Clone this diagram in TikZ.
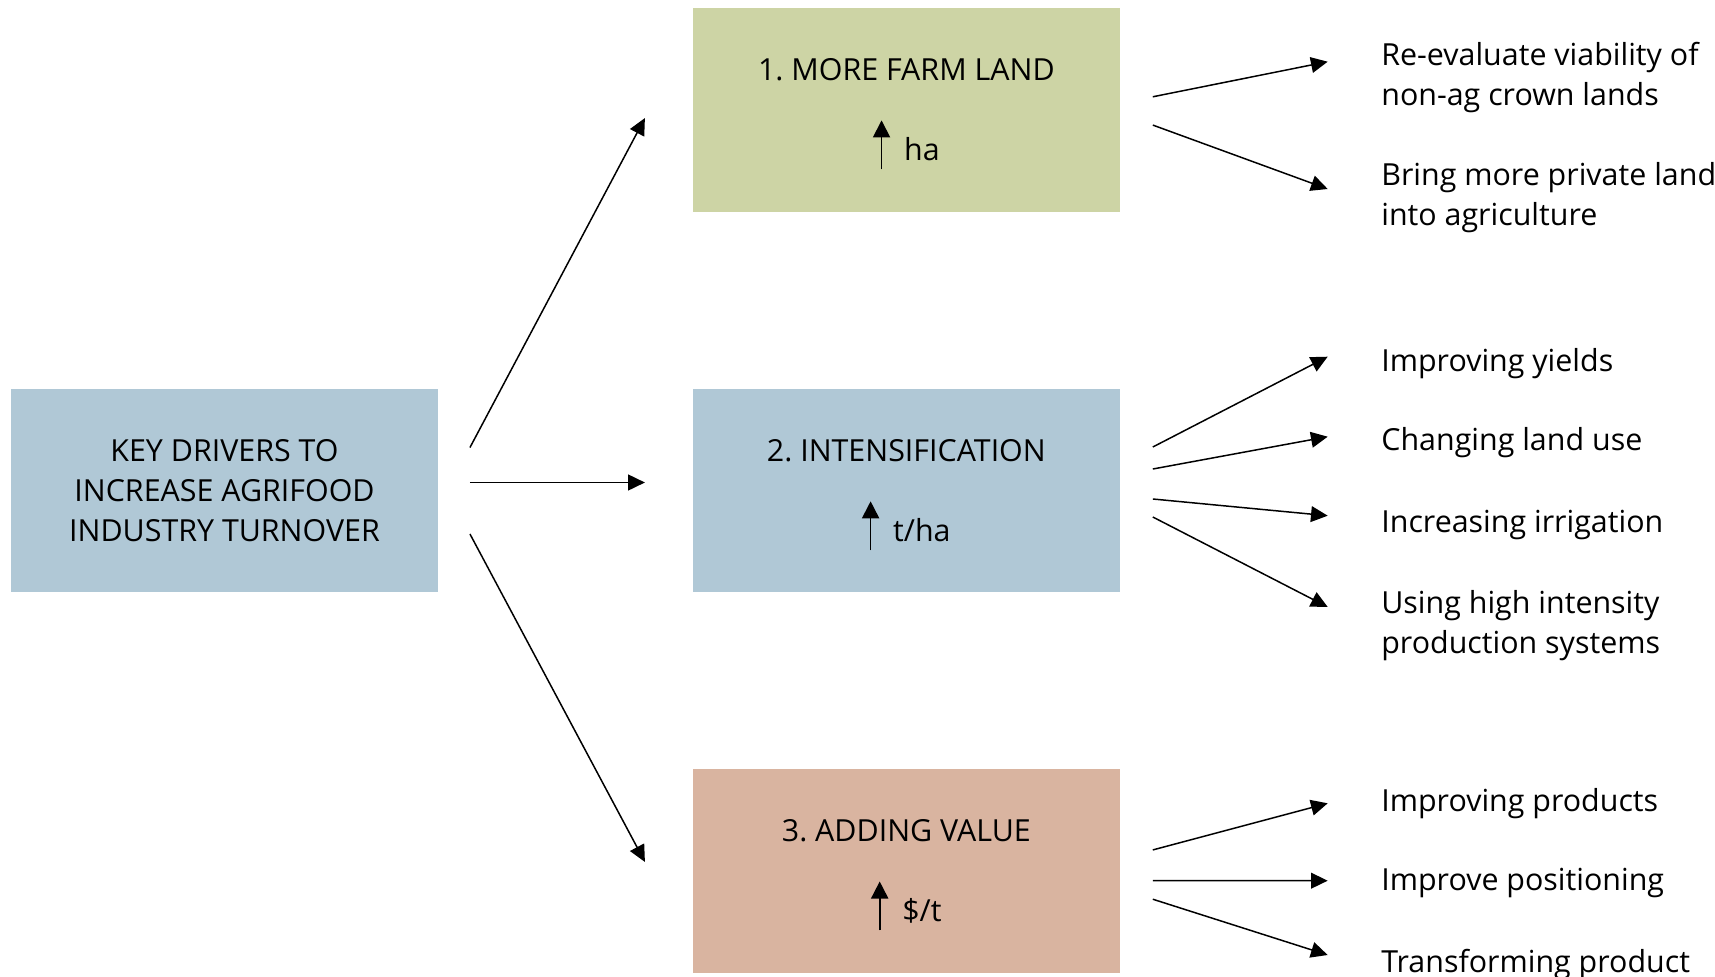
\documentclass[tikz,border=0pt]{standalone}
\usepackage{fontspec}
\setmainfont{Open Sans}
\usetikzlibrary{arrows.meta, positioning}
\frenchspacing

\definecolor{landgreen}{RGB}{205,212,165}
\definecolor{driverblue}{RGB}{176,200,214}
\definecolor{valuepink}{RGB}{217,180,160}

% small upward arrow used inside the boxes
\newcommand{\upmark}{\tikz[baseline=0pt]{\useasboundingbox (0pt,0pt) rectangle (9.7pt,21pt);
    \draw[line width=1pt, -{Triangle[length=9.7pt,width=9.7pt]}] (4.85pt,-5.1pt) -- (4.85pt,22.8pt);}\hspace{8pt}}

\begin{document}
\begin{tikzpicture}[x=0.02cm, y=-0.02cm,
            % Styles
            driver/.style={rectangle, text centered, align=center, minimum width=8.54cm, minimum height=4.08cm, inner sep=0pt, outer sep=0pt, font=\fontsize{17.3pt}{22.7pt}\selectfont},
            outcome/.style={anchor=base west, align=left, inner sep=0pt, font=\fontsize{17.3pt}{22.7pt}\selectfont},
            line/.style={draw, line width=0.85pt, -{Triangle[length=9.5pt, width=9pt]}}
        ]
        \useasboundingbox (0,0) rectangle (1715,977);

        % Nodes
        \node [driver, fill=driverblue] (key) at (224.5,490.5) {KEY DRIVERS TO\\INCREASE AGRIFOOD\\INDUSTRY TURNOVER};

        % Three drivers
        \node [driver, fill=driverblue, right=5.1cm of key] (intens) {2. INTENSIFICATION\\[22.8pt]\upmark t/ha};
        \node [driver, fill=landgreen, above=3.54cm of intens] (land) {1. MORE FARM LAND\\[22.8pt]\upmark ha};
        \node [driver, fill=valuepink, below=3.54cm of intens] (value) {3. ADDING VALUE\\[22.8pt]\upmark \$/t};

        % Outcomes (base = last line)
        \node [outcome] (reeval) at (1381,105) {Re-evaluate viability of\\non-ag crown lands};
        \node [outcome] (bring) at (1381,225) {Bring more private land\\into agriculture};
        \node [outcome] (yields) at (1381,371) {Improving yields};
        \node [outcome] (landuse) at (1381,450) {Changing land use};
        \node [outcome] (irrig) at (1381,532) {Increasing irrigation};
        \node [outcome] (hiint) at (1381,653) {Using high intensity\\production systems};
        \node [outcome] (products) at (1381,811) {Improving products};
        \node [outcome] (position) at (1381,890) {Improve positioning};
        \node [outcome] (transform) at (1381,972) {Transforming product};

        % Edges
        \path [line] ([shift={(32,-43)}]key.east) -- ([shift={(-48,8.5)}]land.west);
        \path [line] ([shift={(32,-8)}]key.east) -- ([shift={(-48,-8)}]intens.west);
        \path [line] ([shift={(32,43.5)}]key.east) -- ([shift={(-48,-9.5)}]value.west);

        \path [line] ([shift={(33,-12.8)}]land.east) -- ([shift={(-53.3,-43.3)}]reeval.base west);
        \path [line] ([shift={(33,15.5)}]land.east) -- ([shift={(-53.3,-36)}]bring.base west);

        \path [line] ([shift={(33,-43.5)}]intens.east) -- ([shift={(-53.3,-14.3)}]yields.base west);
        \path [line] ([shift={(33,-21.5)}]intens.east) -- ([shift={(-53.3,-13.3)}]landuse.base west);
        \path [line] ([shift={(33,8.5)}]intens.east) -- ([shift={(-53.3,-16.3)}]irrig.base west);
        \path [line] ([shift={(33,26.5)}]intens.east) -- ([shift={(-53.3,-46)}]hiint.base west);

        \path [line] ([shift={(33,-21.5)}]value.east) -- ([shift={(-53.3,-7.7)}]products.base west);
        \path [line] ([shift={(33,9.2)}]value.east) -- ([shift={(-53.3,-9.3)}]position.base west);
        \path [line] ([shift={(33,27.8)}]value.east) -- ([shift={(-53.3,-17)}]transform.base west);

    \end{tikzpicture}
\end{document}
